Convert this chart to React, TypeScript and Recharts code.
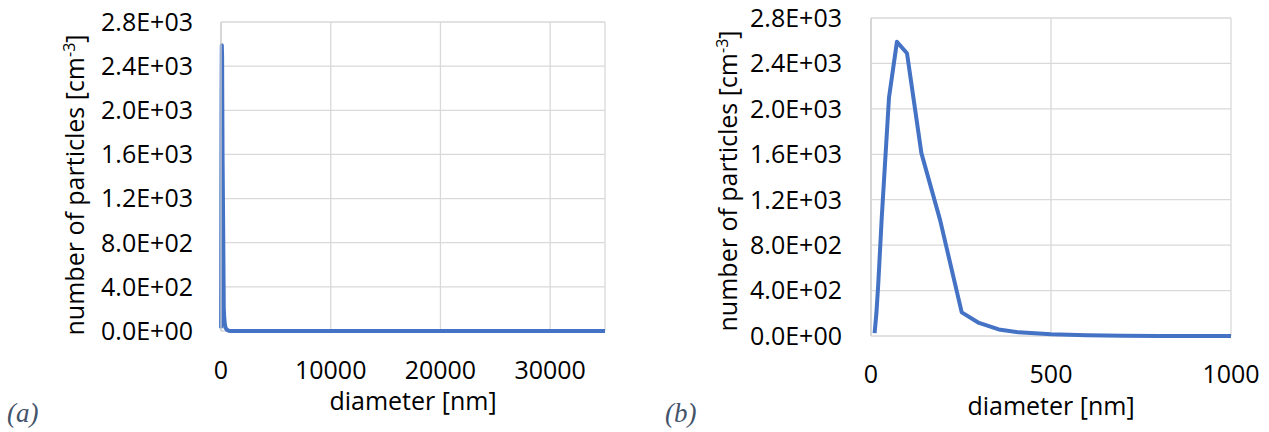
import type { ReactNode } from "react";
import { CartesianGrid, LineChart, Line, XAxis, YAxis } from "recharts";

// ---- data -------------------------------------------------------------

const diameters = [10, 15, 20, 30, 50, 72, 100, 140, 192, 252, 300, 355, 410, 500, 600, 700, 800, 1000, 2000, 5000, 10000, 20000, 35000];
const particleCounts = [25, 200, 450, 1050, 2100, 2590, 2490, 1610, 1020, 208, 115, 58, 32, 15, 7, 3, 1, 0, 0, 0, 0, 0, 0];

const yTicks = [0, 400, 800, 1200, 1600, 2000, 2400, 2800];
const xTicksFull = [0, 10000, 20000, 30000];
const xTicksZoom = [0, 500, 1000];

const data = diameters.map((d, i) => ({ d, n: particleCounts[i] }));

// ---- styling -----------------------------------------------------------

const FONT = "'Open Sans', 'Noto Sans', sans-serif";
const LINE_BLUE = "#4472C4";
const GRID = "#d9d9d9";
const TICK = { fill: "#000", fontSize: 25, fontFamily: FONT } as const;

// 2800 -> "2.8E+03" (Excel style)
function sci(v: number): string {
  const [m, e] = v.toExponential(1).split("e");
  const exp = Number(e);
  const sign = exp < 0 ? "-" : "+";
  return `${m}E${sign}${String(Math.abs(exp)).padStart(2, "0")}`;
}

function YTitle({ bx, cy }: { bx: number; cy: number; viewBox?: unknown }) {
  return (
    <text
      transform={`translate(${bx},${cy}) rotate(-90)`}
      textAnchor="middle"
      fontFamily={FONT}
      fontSize={25}
      fill="#000"
    >
      number of particles [cm
      <tspan dy={-9} fontSize={16}>-3</tspan>
      <tspan dy={9}>]</tspan>
    </text>
  );
}

function XTitle({ viewBox, below }: { viewBox?: { x: number; y: number; width: number }; below: number }) {
  if (!viewBox) return null;
  return (
    <text
      x={viewBox.x + viewBox.width / 2}
      y={viewBox.y + below}
      textAnchor="middle"
      fontFamily={FONT}
      fontSize={25}
      fill="#000"
    >
      diameter [nm]
    </text>
  );
}

function Panel({
  left,
  width,
  plotLeft,
  plotRight,
  plotTop,
  plotBottom,
  xMax,
  xTicks,
  yTickMargin,
  xTickMargin,
  titleX,
  titleCY,
  clip,
}: {
  left: number;
  width: number;
  plotLeft: number;
  plotRight: number;
  plotTop: number;
  plotBottom: number;
  xMax: number;
  xTicks: number[];
  yTickMargin: number;
  xTickMargin: number;
  titleX: number;
  titleCY: number;
  clip: boolean;
}): ReactNode {
  const height = 432;
  return (
    <div style={{ position: "absolute", left, top: 0, width, height }}>
      <LineChart
        width={width}
        height={height}
        data={data}
        margin={{ top: plotTop, right: width - plotRight, bottom: 0, left: 0 }}
      >
        <CartesianGrid stroke={GRID} strokeWidth={1.3} />
        {/* x axis line left out: the 0 grid line sits under the series instead */}
        <XAxis
          dataKey="d"
          type="number"
          domain={[0, xMax]}
          ticks={xTicks}
          interval={0}
          allowDataOverflow={clip}
          height={height - plotBottom}
          tick={TICK}
          tickLine={false}
          tickMargin={xTickMargin}
          axisLine={false}
          label={<XTitle below={79} />}
        />
        <YAxis
          type="number"
          domain={[0, 2800]}
          ticks={yTicks}
          interval={0}
          width={plotLeft}
          tick={TICK}
          tickFormatter={sci}
          tickLine={false}
          tickMargin={yTickMargin}
          axisLine={{ stroke: "#cfcfcf", strokeWidth: 1.3 }}
          label={<YTitle bx={titleX} cy={titleCY} />}
        />
        <Line
          type="linear"
          dataKey="n"
          stroke={LINE_BLUE}
          strokeWidth={4}
          strokeLinejoin="round"
          dot={false}
          activeDot={false}
          isAnimationActive={false}
        />
      </LineChart>
    </div>
  );
}

const panelTag = {
  position: "absolute",
  top: 398,
  fontFamily: "'Liberation Serif', 'DejaVu Serif', serif",
  fontStyle: "italic",
  fontSize: 27,
  color: "#44546a",
  lineHeight: "30px",
} as const;

export default function App() {
  return (
    <div style={{ position: "absolute", left: 0, top: 0, width: 1269, height: 432, background: "#fff", overflow: "hidden" }}>
      <Panel
        left={0}
        width={640}
        plotLeft={221}
        plotRight={605}
        plotTop={22}
        plotBottom={331}
        xMax={35000}
        xTicks={xTicksFull}
        yTickMargin={22}
        xTickMargin={24}
        titleX={83.5}
        titleCY={185}
        clip={false}
      />
      <Panel
        left={640}
        width={629}
        plotLeft={231}
        plotRight={591}
        plotTop={18}
        plotBottom={336}
        xMax={1000}
        xTicks={xTicksZoom}
        yTickMargin={23}
        xTickMargin={23}
        titleX={97}
        titleCY={181}
        clip={true}
      />
      <div style={{ ...panelTag, left: 7 }}>(a)</div>
      <div style={{ ...panelTag, left: 665 }}>(b)</div>
    </div>
  );
}
